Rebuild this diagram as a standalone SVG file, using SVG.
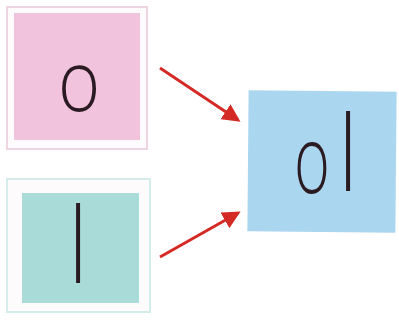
<svg xmlns="http://www.w3.org/2000/svg" width="399" height="325" viewBox="0 0 399 325">
<style>
.frame{fill:#fdfbfc;stroke-width:2}
.letter{font-family:"Open Sans","DejaVu Sans",sans-serif;font-weight:300;fill:#2a1a22}
.arrow{stroke:#d42a26;stroke-width:3;fill:none;marker-end:url(#ah)}
</style>
<defs>
<marker id="ah" markerWidth="6" markerHeight="6" refX="5" refY="3" orient="auto" markerUnits="strokeWidth">
<path d="M0,0 L6,3 L0,6 Z" fill="#d42a26"/>
</marker>
</defs>
<rect width="399" height="325" fill="#ffffff"/>
<g id="node-o">
<rect class="frame" x="7" y="7" width="140" height="142" stroke="#efd4e2"/>
<rect x="14" y="13" width="126" height="127" fill="#f1c3dc"/>
<text class="letter" x="0" y="0" font-size="72" text-anchor="middle" transform="translate(79,111) scale(1.0,1.18)">o</text>
</g>
<g id="node-l">
<rect class="frame" x="7" y="179" width="143" height="133" stroke="#d4ecea"/>
<rect x="22" y="193" width="117" height="110" fill="#a9dcd9"/>
<text class="letter" x="0" y="0" font-size="100" text-anchor="middle" fill="#1e2a2c" transform="translate(78,283) scale(0.8,1.05)">l</text>
</g>
<g id="node-ol">
<rect x="248" y="91" width="148" height="141" fill="#aad6ef" transform="rotate(0.5 322 161)"/>
<text class="letter" x="0" y="0" font-size="72" fill="#1e2a36" text-anchor="middle" transform="translate(312,193) scale(0.85,1.3)">o</text>
<text class="letter" x="0" y="0" font-size="100" fill="#1e2a36" text-anchor="middle" transform="translate(348,191) scale(0.8,1.05)">l</text>
</g>
<g id="connectors">
<line class="arrow" x1="160" y1="68" x2="238" y2="120"/>
<line class="arrow" x1="160" y1="257" x2="238" y2="213"/>
</g>
</svg>
